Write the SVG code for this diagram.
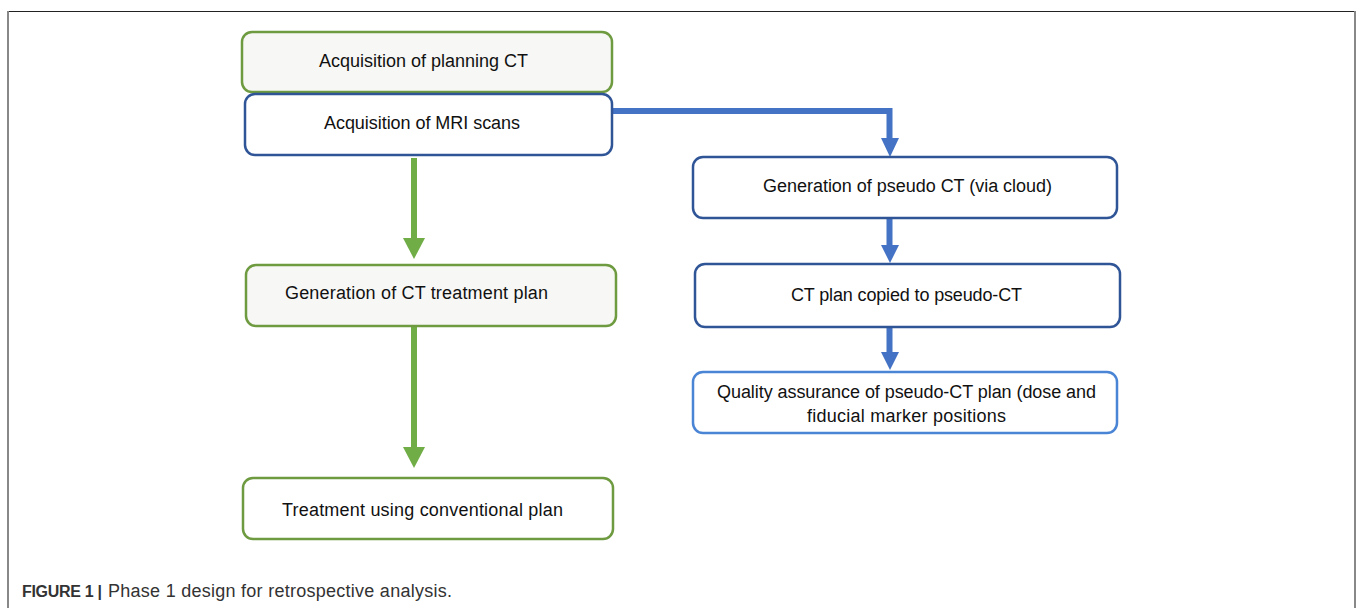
<svg xmlns="http://www.w3.org/2000/svg" width="1358" height="608" viewBox="0 0 1358 608">
<style>
.box{stroke-width:2.5}
.g{stroke:#6e9a40}
.b{stroke:#2f5597}
.lb{stroke:#4a84d4}
.fl{fill:#f7f7f5}
.fw{fill:#ffffff}
.t{font-family:"Liberation Sans",Arial,sans-serif;font-size:18px;fill:#111;text-anchor:middle}
.cap{font-family:"Liberation Sans",Arial,sans-serif;fill:#333}
</style>
<rect width="1358" height="608" fill="#ffffff"/>
<g id="frame">
<line x1="8" y1="11.5" x2="1356" y2="11.5" stroke="#222" stroke-width="1.2"/>
<line x1="8" y1="11" x2="8" y2="608" stroke="#888" stroke-width="2"/>
<line x1="1355" y1="11" x2="1355" y2="608" stroke="#888" stroke-width="2"/>
</g>
<g id="connectors">
<g fill="#70ad47">
<rect x="411" y="158" width="6" height="82"/>
<polygon points="403,238 425,238 414,259"/>
<rect x="411" y="327" width="6" height="122"/>
<polygon points="403,447 425,447 414,468"/>
</g>
<g fill="#4472c4">
<polyline points="612,111 889.5,111 889.5,140" fill="none" stroke="#4472c4" stroke-width="6"/>
<polygon points="881,138 899,138 890,157"/>
<rect x="886.5" y="218" width="6" height="28"/>
<polygon points="881,245 899,245 890,263"/>
<rect x="886.5" y="327" width="6" height="27"/>
<polygon points="881,352 899,352 890,370"/>
</g>
</g>
<g id="n1">
<rect class="box g fl" x="242" y="32" width="370" height="60" rx="10"/>
<text class="t" x="423.5" y="67" textLength="209">Acquisition of planning CT</text>
</g>
<g id="n2">
<rect class="box b fw" x="245" y="94" width="367" height="61" rx="10"/>
<text class="t" x="422" y="128.5" textLength="196">Acquisition of MRI scans</text>
</g>
<g id="n3">
<rect class="box b fw" x="693" y="157" width="424" height="61" rx="10"/>
<text class="t" x="907.5" y="192" textLength="289">Generation of pseudo CT (via cloud)</text>
</g>
<g id="n4">
<rect class="box b fw" x="695" y="264" width="425" height="63" rx="10"/>
<text class="t" x="906.5" y="301" textLength="231">CT plan copied to pseudo-CT</text>
</g>
<g id="n5">
<rect class="box lb fw" x="693" y="372" width="424" height="61" rx="10"/>
<text class="t" x="906.5" y="398" textLength="379">Quality assurance of pseudo-CT plan (dose and</text>
<text class="t" x="906.5" y="422" textLength="199">fiducial marker positions</text>
</g>
<g id="n6">
<rect class="box g fl" x="246" y="265" width="370" height="61" rx="10"/>
<text class="t" x="416.5" y="299" textLength="263">Generation of CT treatment plan</text>
</g>
<g id="n7">
<rect class="box g fw" x="243" y="478" width="370" height="61" rx="10"/>
<text class="t" x="422.5" y="515.5" textLength="281">Treatment using conventional plan</text>
</g>
<g id="caption">
<text class="cap" x="22" y="597" style="font-size:16px;font-weight:bold" textLength="80">FIGURE 1 |</text>
<text class="cap" x="108" y="597" style="font-size:18px" textLength="344">Phase 1 design for retrospective analysis.</text>
</g>
</svg>
